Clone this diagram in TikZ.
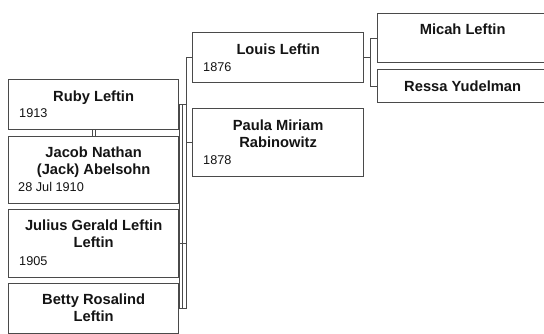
\documentclass[tikz,border=0pt]{standalone}
\usepackage{fontspec}
\setmainfont{Liberation Sans}
\usetikzlibrary{calc}
\definecolor{edge}{HTML}{4A4A4A}
\definecolor{ink}{HTML}{141414}
\tikzset{
  person/.style n args={2}{draw=edge, line width=1.3pt, fill=white,
    minimum width=#1, minimum height=#2, anchor=north west, inner sep=0pt},
  pname/.style={font=\fontsize{14.7}{17}\selectfont\bfseries, text=ink,
    align=center, anchor=base, inner sep=0pt},
  pdate/.style={font=\fontsize{12.7}{15}\selectfont, text=ink,
    anchor=base west, inner sep=0pt},
  conn/.style={draw=edge, line width=1pt},
}
\begin{document}
\begin{tikzpicture}[x=1pt, y=-1pt]
  \useasboundingbox (0,0) rectangle (544,333);

  % children and spouse
  \node[person={170pt}{50pt}] (ruby)   at (8,79)  {};
  \node[person={170pt}{67pt}] (jacob)  at (8,136) {};
  \node[person={170pt}{68pt}] (julius) at (8,209) {};
  \node[person={170pt}{50pt}] (betty)  at (8,283) {};
  % parents
  \node[person={171pt}{50pt}] (louis)  at (192,32)  {};
  \node[person={171pt}{68pt}] (paula)  at (192,108) {};
  % grandparents
  \node[person={170pt}{49pt}] (micah)  at (377,13) {};
  \node[person={170pt}{33pt}] (ressa)  at (377,69) {};

  % names (a two-line name sits on the baseline of its last line)
  \node[pname] (rubyN)   at ($(ruby.north)+(0,22)$)   {Ruby Leftin};
  \node[pname] (jacobN)  at ($(jacob.north)+(0,38)$)  {Jacob Nathan\\(Jack) Abelsohn};
  \node[pname] (juliusN) at ($(julius.north)+(0,38)$) {Julius Gerald Leftin\\Leftin};
  \node[pname] (bettyN)  at ($(betty.north)+(0,38)$)  {Betty Rosalind\\Leftin};
  \node[pname] (louisN)  at ($(louis.north)+(0,22)$)  {Louis Leftin};
  \node[pname] (paulaN)  at ($(paula.north)+(0,39)$)  {Paula Miriam\\Rabinowitz};
  \node[pname] (micahN)  at ($(micah.north)+(0,21)$)  {Micah Leftin};
  \node[pname] (ressaN)  at ($(ressa.north)+(0,22)$)  {Ressa Yudelman};

  % dates
  \node[pdate] (rubyD)   at ($(ruby.north west)+(11,38)$)   {1913};
  \node[pdate] (jacobD)  at ($(jacob.north west)+(10,55)$)  {28 Jul 1910};
  \node[pdate] (juliusD) at ($(julius.north west)+(11,56)$) {1905};
  \node[pdate] (louisD)  at ($(louis.north west)+(11,39)$)  {1876};
  \node[pdate] (paulaD)  at ($(paula.north west)+(11,56)$)  {1878};

  % bracket columns
  \coordinate (gbar) at (370,0);
  \coordinate (pbar) at (186,0);
  \coordinate (kbarA) at (179.5,0);
  \coordinate (kbarB) at (182.5,0);

  % Louis to his parents
  \draw[conn] (micah.west) -- (micah.west -| gbar) -- (ressa.west -| gbar) -- (ressa.west);
  \draw[conn] (louis.east) -- (louis.east -| gbar);

  % couple line down to the children
  \draw[conn] (louis.west) -| (pbar |- betty.east);
  \draw[conn] (paula.west) -- (paula.west -| pbar);

  % children bracket
  \draw[conn] (ruby.east -| kbarA) rectangle (betty.east -| kbarB);
  \draw[conn] (ruby.east) -- (ruby.east -| pbar);
  \draw[conn] (julius.east -| kbarA) -- (julius.east -| pbar);
  \draw[conn] (betty.east -| kbarA) -- (betty.east -| pbar);

  % marriage mark between Ruby and Jacob
  \draw[conn, line width=0.8pt] ([xshift=-1.6pt]ruby.south) -- ([xshift=-1.6pt]ruby.south |- jacob.north);
  \draw[conn, line width=0.8pt] ([xshift=1.6pt]ruby.south) -- ([xshift=1.6pt]ruby.south |- jacob.north);
\end{tikzpicture}
\end{document}
